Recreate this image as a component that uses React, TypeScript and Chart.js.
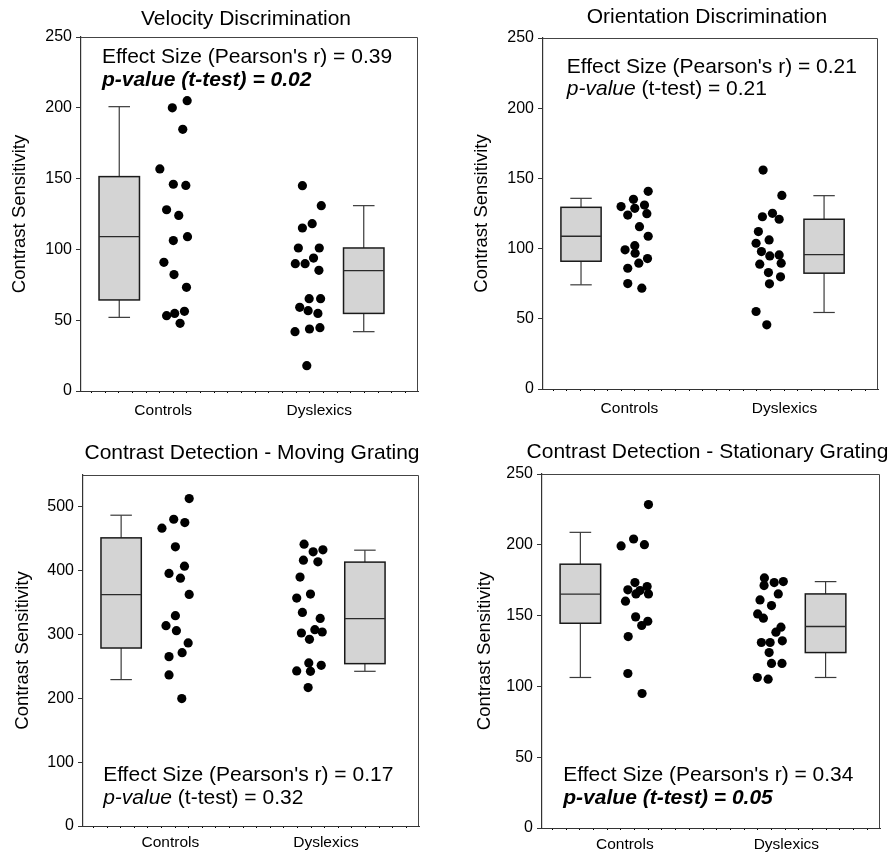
import React, { useEffect, useRef } from 'react';
import { Chart, registerables } from 'chart.js';

Chart.register(...registerables);

const FONT = '"Liberation Sans", Arial, Helvetica, sans-serif';

// ---------- shared labels ----------
const categories = ['Controls', 'Dyslexics'];
const yAxisTitle = 'Contrast Sensitivity';
const panelTitles = [
  'Velocity Discrimination',
  'Orientation Discrimination',
  'Contrast Detection - Moving Grating',
  'Contrast Detection - Stationary Grating',
];
const effectSizes = ['0.39', '0.21', '0.17', '0.34'];
const pValues = ['0.02', '0.21', '0.32', '0.05'];
const pSignificant = [true, false, false, true];

// y tick labels
const yTicks250 = [0, 50, 100, 150, 200, 250];
const yTicks500 = [0, 100, 200, 300, 400, 500];

// ---------- Velocity Discrimination ----------
const velControls = [200, 205, 184.8, 156.8, 146, 145.2, 128, 124, 106.2, 109, 90.9, 82.2, 73.2, 53.2, 54.8, 56.3, 47.8];
const velControlsX = [27.1, 31.5, 30.2, 23.4, 27.4, 31.1, 25.4, 29, 27.4, 31.6, 24.6, 27.6, 31.3, 25.4, 27.8, 30.7, 29.4];
const velDyslexics = [145, 130.9, 115.1, 118.2, 101, 101, 93.9, 89.9, 89.9, 85.2, 65.2, 65.2, 59.1, 56.7, 54.8, 41.9, 43.8, 44.7, 17.9];
const velDyslexicsX = [65.7, 71.3, 65.7, 68.6, 64.5, 70.7, 69, 63.6, 66.5, 70.6, 67.7, 71.1, 64.9, 67.4, 70.3, 63.5, 67.8, 70.9, 67];
// [min, q1, median, q3, max]
const velControlsBox = [52, 64.3, 109, 151.4, 200.8];
const velDyslexicsBox = [41.9, 54.8, 85, 101, 130.9];

// ---------- Orientation Discrimination ----------
const oriControls = [129.9, 135.1, 140.8, 128.7, 131, 123.9, 124.9, 115.6, 108.8, 102.1, 99.1, 96.7, 92.9, 89.6, 86, 75.1, 71.8];
const oriControlsX = [23.3, 27, 31.4, 27.4, 30.3, 25.3, 31, 28.8, 31.4, 27.4, 24.5, 27.5, 31.2, 28.6, 25.3, 25.3, 29.5];
const oriDyslexics = [155.9, 137.9, 122.7, 125.1, 120.9, 112.1, 103.8, 106.2, 97.9, 94.8, 95.5, 88.9, 89.6, 82.9, 79.9, 74.9, 55.2, 45.7];
const oriDyslexicsX = [65.7, 71.3, 65.5, 68.5, 70.5, 64.3, 63.6, 67.5, 65.2, 67.7, 70.5, 64.7, 71.1, 67.3, 70.9, 67.6, 63.6, 66.8];
const oriControlsBox = [74.2, 91, 108.8, 129.4, 135.8];
const oriDyslexicsBox = [54.5, 82.5, 95.7, 120.9, 137.7];

// ---------- Contrast Detection - Moving Grating ----------
const movControls = [513, 466.6, 480.7, 475.5, 437.4, 407.2, 395.7, 388.4, 362.9, 329.5, 313.9, 306, 286.8, 265.4, 271.6, 236.7, 199.7];
const movControlsX = [31.6, 23.5, 27, 30.3, 27.5, 30.2, 25.6, 29, 31.6, 27.5, 24.7, 27.8, 31.3, 25.6, 29.5, 25.6, 29.4];
const movDyslexics = [441.6, 429.6, 432.7, 416.6, 414, 390, 363.4, 357.1, 334.7, 325.3, 302.4, 307.6, 304, 292.5, 255.5, 251.8, 243, 242.4, 216.9];
const movDyslexicsX = [65.8, 68.5, 71.4, 65.6, 69.9, 64.6, 67.7, 63.6, 65.3, 70.6, 65, 69, 71.2, 67.4, 67.2, 70.9, 63.6, 67.7, 67];
const movControlsBox = [229.4, 278.9, 362.4, 451.5, 487];
const movDyslexicsBox = [242.4, 254.4, 324.8, 413.5, 432.2];

// ---------- Contrast Detection - Stationary Grating ----------
const staControls = [228.4, 199.2, 204.1, 200.1, 173.3, 168.2, 165.3, 167.7, 170.5, 165.3, 160.2, 149.1, 146, 143, 135.2, 109.1, 95];
const staControlsX = [31.5, 23.4, 27.1, 30.3, 27.5, 25.4, 27.8, 29, 31.1, 31.5, 24.7, 27.7, 31.3, 29.5, 25.5, 25.4, 29.6];
const staDyslexics = [176.6, 171.2, 173.3, 174, 165.3, 161.1, 157.1, 151.2, 148.2, 138.3, 141.8, 131, 131, 132.2, 123.9, 116.2, 116.2, 106.3, 105.1];
const staDyslexicsX = [65.8, 65.7, 68.7, 71.4, 69.9, 64.5, 67.9, 63.8, 65.5, 69.2, 70.7, 64.9, 67.5, 71.1, 67.2, 67.9, 71, 63.7, 66.9];
const staControlsBox = [106.3, 144.6, 165.1, 186.3, 208.8];
const staDyslexicsBox = [106.3, 123.9, 142.3, 165.3, 174];

// ---------- layout (positions / sizes / styles) ----------
const BOX_CENTERS = [11.35, 83.9];
const BOX_HW = 6;
const CAP_HW = 3.2;
const MINOR_START = 3.1;
const MINOR_STEP = 4.05;

type Layout = {
  left: number; top: number; w: number; h: number;
  yWidth: number; padRight: number; chartTop: number; xHeight: number;
  titleCx: number; titleCy: number; yTitlePad: number; xTickPad: number;
  labelX: number[]; annX: number; annY: number; annGap: number;
};

type Panel = {
  title: string; yMax: number; yTicks: number[];
  groups: { values: number[]; xs: number[]; box: number[] }[];
  r: string; p: string; sig: boolean; lay: Layout;
};

const panels: Panel[] = [
  {
    title: panelTitles[0], yMax: 250, yTicks: yTicks250,
    groups: [
      { values: velControls, xs: velControlsX, box: velControlsBox },
      { values: velDyslexics, xs: velDyslexicsX, box: velDyslexicsBox },
    ],
    r: effectSizes[0], p: pValues[0], sig: pSignificant[0],
    lay: { left: 0, top: 0, w: 446, h: 427, yWidth: 81, padRight: 28, chartTop: 37, xHeight: 36,
      titleCx: 246, titleCy: 19, yTitlePad: 9, xTickPad: 8, labelX: [24.4, 70.7], annX: 6.2, annY: 231.4, annGap: 23 },
  },
  {
    title: panelTitles[1], yMax: 250, yTicks: yTicks250,
    groups: [
      { values: oriControls, xs: oriControlsX, box: oriControlsBox },
      { values: oriDyslexics, xs: oriDyslexicsX, box: oriDyslexicsBox },
    ],
    r: effectSizes[1], p: pValues[1], sig: pSignificant[1],
    lay: { left: 446, top: 0, w: 447, h: 427, yWidth: 97, padRight: 15, chartTop: 38, xHeight: 38,
      titleCx: 261, titleCy: 17, yTitlePad: 25, xTickPad: 8, labelX: [25.8, 72.1], annX: 7.1, annY: 225.3, annGap: 22.5 },
  },
  {
    title: panelTitles[2], yMax: 550, yTicks: yTicks500,
    groups: [
      { values: movControls, xs: movControlsX, box: movControlsBox },
      { values: movDyslexics, xs: movDyslexicsX, box: movDyslexicsBox },
    ],
    r: effectSizes[2], p: pValues[2], sig: pSignificant[2],
    lay: { left: 0, top: 427, w: 446, h: 428, yWidth: 83, padRight: 27, chartTop: 48, xHeight: 29,
      titleCx: 252, titleCy: 26.7, yTitlePad: 12, xTickPad: 5, labelX: [26, 72.3], annX: 6.0, annY: 70.5, annGap: 22.7 },
  },
  {
    title: panelTitles[3], yMax: 250, yTicks: yTicks250,
    groups: [
      { values: staControls, xs: staControlsX, box: staControlsBox },
      { values: staDyslexics, xs: staDyslexicsX, box: staDyslexicsBox },
    ],
    r: effectSizes[3], p: pValues[3], sig: pSignificant[3],
    lay: { left: 446, top: 427, w: 447, h: 428, yWidth: 96, padRight: 13, chartTop: 47, xHeight: 27,
      titleCx: 261.5, titleCy: 25.5, yTitlePad: 28, xTickPad: 5, labelX: [24.5, 72.3], annX: 6.3, annY: 33, annGap: 23 },
  },
];

function makePlugin(panel: Panel) {
  return {
    id: 'panelDecor',
    beforeDatasetsDraw(chart: any) {
      const ctx = chart.ctx as CanvasRenderingContext2D;
      const xs = chart.scales.x;
      const ys = chart.scales.y;
      const line = (x1: number, y1: number, x2: number, y2: number) => {
        ctx.beginPath();
        ctx.moveTo(x1, y1);
        ctx.lineTo(x2, y2);
        ctx.stroke();
      };
      ctx.save();
      panel.groups.forEach((g, i) => {
        const cx = BOX_CENTERS[i];
        const [mn, q1, med, q3, mx] = g.box;
        const xl = xs.getPixelForValue(cx - BOX_HW);
        const xr = xs.getPixelForValue(cx + BOX_HW);
        const xc = xs.getPixelForValue(cx);
        const cl = xs.getPixelForValue(cx - CAP_HW);
        const cr = xs.getPixelForValue(cx + CAP_HW);
        const py = (v: number) => ys.getPixelForValue(v);
        ctx.strokeStyle = '#3a3a3a';
        ctx.lineWidth = 1.2;
        line(xc, py(mx), xc, py(q3));
        line(xc, py(q1), xc, py(mn));
        line(cl, py(mx), cr, py(mx));
        line(cl, py(mn), cr, py(mn));
        ctx.fillStyle = '#d4d4d4';
        ctx.fillRect(xl, py(q3), xr - xl, py(q1) - py(q3));
        ctx.strokeStyle = '#1a1a1a';
        ctx.lineWidth = 1.5;
        ctx.strokeRect(xl, py(q3), xr - xl, py(q1) - py(q3));
        ctx.strokeStyle = '#2a2a2a';
        ctx.lineWidth = 1.3;
        line(xl, py(med), xr, py(med));
      });
      ctx.restore();
    },
    afterDraw(chart: any) {
      const ctx = chart.ctx as CanvasRenderingContext2D;
      const { left, right, top, bottom } = chart.chartArea;
      const xs = chart.scales.x;
      const ys = chart.scales.y;
      const lay = panel.lay;
      ctx.save();
      // frame top and right
      ctx.strokeStyle = '#444';
      ctx.lineWidth = 1;
      ctx.beginPath();
      ctx.moveTo(left, top + 0.5);
      ctx.lineTo(right - 0.5, top + 0.5);
      ctx.lineTo(right - 0.5, bottom);
      ctx.stroke();
      // title
      ctx.fillStyle = '#000';
      ctx.font = `21px ${FONT}`;
      ctx.textAlign = 'center';
      ctx.textBaseline = 'middle';
      ctx.fillText(panel.title, lay.titleCx, lay.titleCy);
      // annotation
      ctx.textAlign = 'left';
      ctx.textBaseline = 'alphabetic';
      const ax = xs.getPixelForValue(lay.annX);
      const ay = ys.getPixelForValue(lay.annY);
      ctx.font = `21px ${FONT}`;
      ctx.fillText(`Effect Size (Pearson's r) = ${panel.r}`, ax, ay);
      const y2 = ay + lay.annGap;
      if (panel.sig) {
        ctx.font = `italic bold 21px ${FONT}`;
        ctx.fillText(`p-value (t-test) = ${panel.p}`, ax, y2);
      } else {
        ctx.font = `italic 21px ${FONT}`;
        const pv = 'p-value';
        ctx.fillText(pv, ax, y2);
        const w = ctx.measureText(pv).width;
        ctx.font = `21px ${FONT}`;
        ctx.fillText(` (t-test) = ${panel.p}`, ax + w, y2);
      }
      ctx.restore();
    },
  };
}

function PanelChart({ panel }: { panel: Panel }) {
  const ref = useRef<HTMLCanvasElement | null>(null);
  useEffect(() => {
    if (!ref.current) return;
    const lay = panel.lay;
    const labelX = lay.labelX;
    const isLabel = (v: number) => labelX.some((l) => Math.abs(l - v) < 1e-6);
    const minor: number[] = [];
    for (let v = MINOR_START; v < 100; v += MINOR_STEP) minor.push(+v.toFixed(3));
    const xTickValues = [...minor, ...labelX].sort((a, b) => a - b);

    const datasets = panel.groups.map((g) => ({
      data: g.values.map((v, i) => ({ x: g.xs[i], y: v })),
      backgroundColor: '#000',
      borderColor: '#000',
      borderWidth: 0,
      pointRadius: 4.6,
      pointHoverRadius: 4.6,
    }));

    const chart = new Chart(ref.current, {
      type: 'scatter',
      data: { datasets },
      options: {
        animation: false,
        responsive: false,
        events: [],
        layout: { padding: { left: 0, right: lay.padRight, top: lay.chartTop, bottom: 0 } },
        plugins: {
          legend: { display: false },
          tooltip: { enabled: false },
          title: { display: false },
        },
        scales: {
          x: {
            type: 'linear',
            min: 0,
            max: 100,
            afterBuildTicks: (axis: any) => {
              axis.ticks = xTickValues.map((v) => ({ value: v }));
            },
            afterFit: (axis: any) => {
              axis.height = lay.xHeight;
            },
            ticks: {
              autoSkip: false,
              maxRotation: 0,
              minRotation: 0,
              padding: lay.xTickPad,
              color: '#000',
              font: { family: FONT, size: 15.5 },
              callback: (value: any) => {
                const idx = labelX.findIndex((l) => Math.abs(l - Number(value)) < 1e-6);
                return idx >= 0 ? categories[idx] : '';
              },
            },
            grid: {
              drawOnChartArea: false,
              drawTicks: true,
              tickLength: 2,
              lineWidth: 1,
              color: (c: any) => (c.tick && isLabel(c.tick.value) ? 'rgba(0,0,0,0)' : '#000'),
            },
            border: { display: true, color: '#333', width: 1 },
          },
          y: {
            type: 'linear',
            min: 0,
            max: panel.yMax,
            afterBuildTicks: (axis: any) => {
              axis.ticks = panel.yTicks.map((v) => ({ value: v }));
            },
            afterFit: (axis: any) => {
              axis.width = lay.yWidth;
            },
            ticks: {
              padding: 4,
              color: '#000',
              font: { family: FONT, size: 16 },
            },
            grid: {
              drawOnChartArea: false,
              drawTicks: true,
              tickLength: 5,
              lineWidth: 1,
              color: '#333',
            },
            border: { display: true, color: '#333', width: 1.2 },
            title: {
              display: true,
              text: yAxisTitle,
              color: '#000',
              font: { family: FONT, size: 18.5 },
              padding: { top: lay.yTitlePad, bottom: 0 },
            },
          },
        },
      },
      plugins: [makePlugin(panel)],
    } as any);
    return () => chart.destroy();
  }, [panel]);

  const lay = panel.lay;
  return (
    <canvas
      ref={ref}
      width={lay.w}
      height={lay.h}
      style={{ position: 'absolute', left: lay.left, top: lay.top, width: lay.w, height: lay.h }}
    />
  );
}

export default function App() {
  return (
    <div style={{ position: 'absolute', left: 0, top: 0, width: 893, height: 855, background: '#fff', overflow: 'hidden' }}>
      {panels.map((p, i) => (
        <PanelChart key={i} panel={p} />
      ))}
    </div>
  );
}
